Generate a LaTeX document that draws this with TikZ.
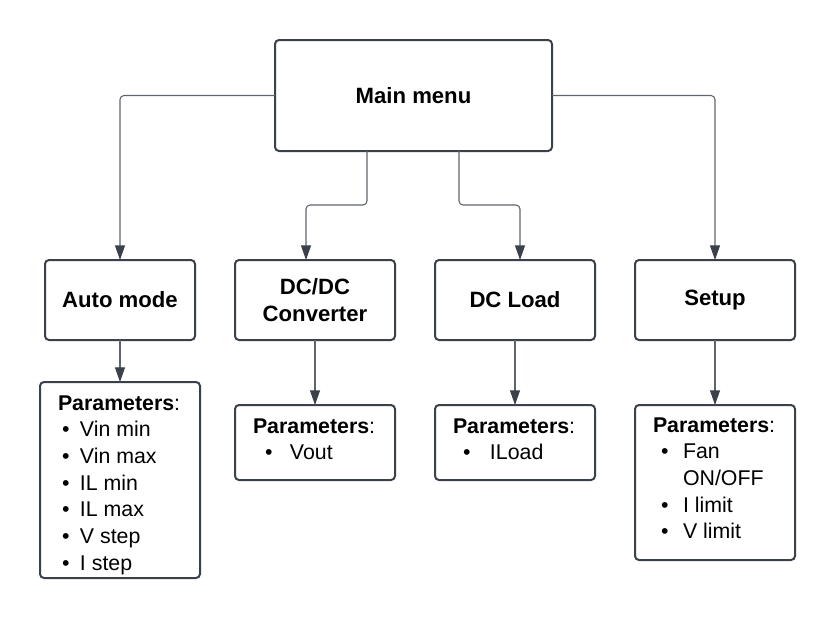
\documentclass[tikz,border=0pt]{standalone}
\usepackage{fontspec}
\setmainfont{Liberation Sans}
\usetikzlibrary{arrows.meta}
\newlength\pxu
\setlength\pxu{0.75pt}
\definecolor{edgec}{RGB}{58,65,74}
\definecolor{connc}{RGB}{95,101,110}
\newcommand\bitem[3]{\hspace*{#1\pxu}\makebox[0pt][l]{\textbullet}\hspace*{#2\pxu}#3}
\begin{document}
\begin{tikzpicture}[x=0.75pt,y=-0.75pt,
  box/.style={draw=edgec, line width=1.5pt, rounded corners=3pt, fill=white,
    outer sep=0pt, inner sep=0pt, align=center,
    font=\fontsize{16.6}{20.3}\selectfont\bfseries},
  pbox/.style={draw=edgec, line width=1.5pt, rounded corners=3pt, fill=white,
    outer sep=0pt, inner sep=0pt},
  ptext/.style={inner sep=0pt, outer sep=0pt, anchor=base west,
    font=\fontsize{16}{20}\selectfont},
  conn/.style={draw=connc, line width=0.8pt, rounded corners=3pt,
    -{Triangle[length=11pt,width=7.5pt,color=edgec]}}]
\useasboundingbox (0,0) rectangle (835,618);

% boxes
\node[box, minimum width=277*\pxu, minimum height=111*\pxu] (main) at (413.5,95.5) {Main menu};
\node[box, minimum width=150*\pxu, minimum height=80*\pxu] (auto) at (120,300) {Auto mode};
\node[box, minimum width=160*\pxu, minimum height=80*\pxu] (dcdc) at (315,300) {DC/DC\\Converter};
\node[box, minimum width=160*\pxu, minimum height=80*\pxu] (dcload) at (515,300) {DC Load};
\node[box, minimum width=160*\pxu, minimum height=80*\pxu] (setup) at (715,300) {Setup};

\node[pbox, minimum width=160*\pxu, minimum height=196*\pxu] (pauto) at (120,480) {};
\node[pbox, minimum width=160*\pxu, minimum height=75*\pxu] (pdcdc) at (315,442.5) {};
\node[pbox, minimum width=160*\pxu, minimum height=75*\pxu] (pdcload) at (515,442.5) {};
\node[pbox, minimum width=160*\pxu, minimum height=155*\pxu] (psetup) at (715,482.5) {};

% parameter texts
\node[ptext] (tauto) at (58,410) {\parbox[t]{150\pxu}{\textbf{Parameters}:\\
  \bitem{4}{18}{Vin min}\\ \bitem{4}{18}{Vin max}\\ \bitem{4}{18}{IL min}\\
  \bitem{4}{18}{IL max}\\ \bitem{4}{18}{V step}\\ \bitem{4}{18}{I step}}};
\node[ptext] (tdcdc) at (253,433) {\parbox[t]{150\pxu}{\textbf{Parameters}:\\
  \bitem{12}{25}{Vout}}};
\node[ptext] (tdcload) at (453,433) {\parbox[t]{150\pxu}{\textbf{Parameters}:\\
  \bitem{10}{27}{ILoad}}};
\node[ptext] (tsetup) at (653,432) {\parbox[t]{150\pxu}{\textbf{Parameters}:\\
  \bitem{8}{22}{Fan}\\ \hspace*{30\pxu}ON/OFF\\ \bitem{8}{22}{I limit}\\
  \bitem{8}{22}{V limit}}};

% connectors
\draw[conn] (main.west) -| (auto.north);
\draw[conn] ([xshift=-46.5*\pxu]main.south) -- ++(0,54) -| ([xshift=-9*\pxu]dcdc.north);
\draw[conn] ([xshift=45.5*\pxu]main.south) -- ++(0,54) -| ([xshift=5*\pxu]dcload.north);
\draw[conn] (main.east) -| (setup.north);

\draw[conn] (auto.south) -- (pauto.north);
\draw[conn] (dcdc.south) -- (pdcdc.north);
\draw[conn] (dcload.south) -- (pdcload.north);
\draw[conn] (setup.south) -- (psetup.north);
\end{tikzpicture}
\end{document}
